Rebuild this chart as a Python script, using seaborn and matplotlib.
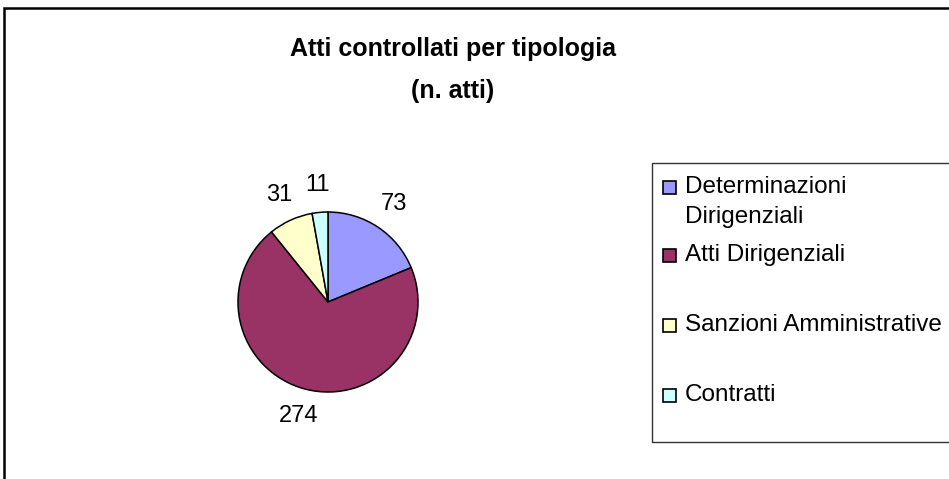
import matplotlib.pyplot as plt
import seaborn as sns
from matplotlib.patches import Rectangle

sns.set_theme(style="white")
plt.rcParams['font.family'] = ['Liberation Sans', 'DejaVu Sans']
plt.rcParams['text.color'] = 'black'

# --------------------------
# Data
# --------------------------
categorie = ["Determinazioni\nDirigenziali", "Atti Dirigenziali",
             "Sanzioni Amministrative", "Contratti"]
atti = [73, 274, 31, 11]
colori = ["#9999FF", "#993366", "#FFFFCC", "#CCFFFF"]
titolo = ["Atti controllati per tipologia", "(n. atti)"]

W, H = 949, 479
fig = plt.figure(figsize=(W / 100, H / 100), dpi=100)
fig.patch.set_facecolor("white")

def px(x, y):
    # pixel position (from top-left) -> figure fraction
    return x / W, 1 - y / H

# outer chart frame, right and bottom edges run off the picture
fig.patches.append(Rectangle(px(4, 520), 1.2, (520 - 8) / H, transform=fig.transFigure,
                             fill=False, edgecolor="black", linewidth=1.8, clip_on=False))

# --------------------------
# Pie
# --------------------------
cx, cy, r = 328, 302, 90
s = 1.25 * r
ax = fig.add_axes([(cx - s) / W, (H - cy - s) / H, 2 * s / W, 2 * s / H])
wedges, texts = ax.pie(atti, labels=[str(v) for v in atti], colors=colori,
                       startangle=90, counterclock=False, labeldistance=1.31,
                       wedgeprops=dict(edgecolor="black", linewidth=1.1),
                       textprops=dict(fontsize=17, color="black"))
for t in texts:
    t.set_ha("center")
ax.set_xlim(-1.25, 1.25)
ax.set_ylim(-1.25, 1.25)

# --------------------------
# Title
# --------------------------
fig.text(*px(453, 56), titolo[0], ha="center", va="baseline", fontsize=18, weight="bold")
fig.text(*px(453, 98), titolo[1], ha="center", va="baseline", fontsize=18, weight="bold")

# --------------------------
# Legend (Excel-style box on the right)
# --------------------------
lx, ly0, ly1 = 652, 163, 442
fig.patches.append(Rectangle(px(lx, ly1), 1.0, (ly1 - ly0) / H, transform=fig.transFigure,
                             fill=False, edgecolor="#333333", linewidth=1.0, clip_on=False))
entry_y = [187, 255, 325, 395]
for lab, col, y in zip(categorie, colori, entry_y):
    fig.patches.append(Rectangle(px(662.5, y + 6.5), 13 / W, 13 / H, transform=fig.transFigure,
                                 facecolor=col, edgecolor="black", linewidth=1.2))
    for i, riga in enumerate(lab.split("\n")):
        fig.text(*px(685, y + 30 * i), riga, ha="left", va="center", fontsize=17.5)

fig.savefig("out.png", dpi=100, facecolor="white")
